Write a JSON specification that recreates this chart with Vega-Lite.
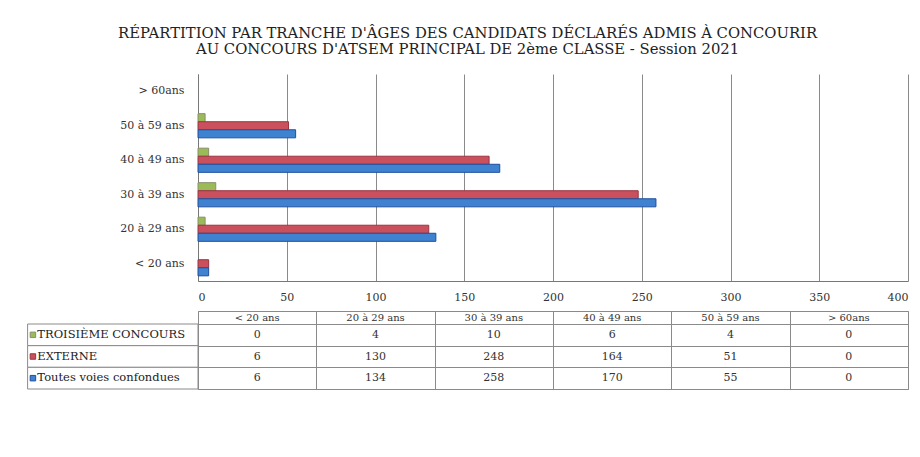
{
  "$schema": "https://vega.github.io/schema/vega-lite/v6.json",
  "padding": {"left": 26, "top": 26, "right": 4, "bottom": 10},
  "background": "white",
  "title": {
    "text": ["RÉPARTITION PAR TRANCHE D'ÂGES DES CANDIDATS DÉCLARÉS ADMIS À CONCOURIR", "AU CONCOURS D'ATSEM PRINCIPAL DE 2ème CLASSE - Session 2021"],
    "font": "DejaVu Serif", "fontSize": 14.8, "fontWeight": "normal", "color": "#222",
    "anchor": "middle", "offset": 17, "lineHeight": 16
  },
  "datasets": {
    "ages": [
      {"age": "< 20 ans", "serie": "TROISIÈME CONCOURS", "value": 0},
      {"age": "< 20 ans", "serie": "EXTERNE", "value": 6},
      {"age": "< 20 ans", "serie": "Toutes voies confondues", "value": 6},
      {"age": "20 à 29 ans", "serie": "TROISIÈME CONCOURS", "value": 4},
      {"age": "20 à 29 ans", "serie": "EXTERNE", "value": 130},
      {"age": "20 à 29 ans", "serie": "Toutes voies confondues", "value": 134},
      {"age": "30 à 39 ans", "serie": "TROISIÈME CONCOURS", "value": 10},
      {"age": "30 à 39 ans", "serie": "EXTERNE", "value": 248},
      {"age": "30 à 39 ans", "serie": "Toutes voies confondues", "value": 258},
      {"age": "40 à 49 ans", "serie": "TROISIÈME CONCOURS", "value": 6},
      {"age": "40 à 49 ans", "serie": "EXTERNE", "value": 164},
      {"age": "40 à 49 ans", "serie": "Toutes voies confondues", "value": 170},
      {"age": "50 à 59 ans", "serie": "TROISIÈME CONCOURS", "value": 4},
      {"age": "50 à 59 ans", "serie": "EXTERNE", "value": 51},
      {"age": "50 à 59 ans", "serie": "Toutes voies confondues", "value": 55},
      {"age": "> 60ans", "serie": "TROISIÈME CONCOURS", "value": 0},
      {"age": "> 60ans", "serie": "EXTERNE", "value": 0},
      {"age": "> 60ans", "serie": "Toutes voies confondues", "value": 0}
    ]
  },
  "spacing": 8,
  "vconcat": [
    {
      "width": 710,
      "height": 207,
      "data": {"name": "ages"},
      "mark": {"type": "bar", "strokeWidth": 1},
      "encoding": {
        "y": {
          "field": "age", "type": "nominal",
          "sort": ["> 60ans", "50 à 59 ans", "40 à 49 ans", "30 à 39 ans", "20 à 29 ans", "< 20 ans"],
          "scale": {"paddingInner": 0, "paddingOuter": 0},
          "axis": {"title": null, "ticks": false, "labelPadding": 14, "labelFontSize": 11, "labelColor": "#333", "labelFont": "DejaVu Serif", "domainColor": "#777", "grid": false}
        },
        "x": {
          "field": "value", "type": "quantitative",
          "scale": {"domain": [0, 400], "nice": false},
          "axis": {"title": null, "values": [0, 50, 100, 150, 200, 250, 300, 350, 400], "ticks": false, "labelPadding": 10, "labelFontSize": 11, "labelColor": "#333", "labelFont": "DejaVu Serif", "grid": true, "gridColor": "#8a8a8a", "domainColor": "#777"}
        },
        "yOffset": {
          "field": "serie", "type": "nominal",
          "sort": ["TROISIÈME CONCOURS", "EXTERNE", "Toutes voies confondues"],
          "scale": {"paddingInner": 0, "paddingOuter": 0.64}
        },
        "color": {
          "field": "serie", "type": "nominal",
          "scale": {"domain": ["TROISIÈME CONCOURS", "EXTERNE", "Toutes voies confondues"], "range": ["#9BBB59", "#C9505C", "#3F82CF"]},
          "legend": null
        },
        "stroke": {
          "field": "serie", "type": "nominal",
          "scale": {"domain": ["TROISIÈME CONCOURS", "EXTERNE", "Toutes voies confondues"], "range": ["#8a8f6a", "#9B3440", "#1F4E9E"]},
          "legend": null
        },
        "strokeOpacity": {"condition": {"test": "datum.value == 0", "value": 0}, "value": 1}
      }
    },
    {
      "width": 710,
      "height": 78,
      "view": {"stroke": "#8a8a8a"},
      "data": {"name": "ages"},
      "resolve": {"scale": {"x": "independent"}, "axis": {"x": "independent"}},
      "encoding": {
        "y": {
          "field": "serie", "type": "nominal",
          "sort": ["TROISIÈME CONCOURS", "EXTERNE", "Toutes voies confondues"],
          "scale": {"domain": ["TROISIÈME CONCOURS", "EXTERNE", "Toutes voies confondues"], "paddingInner": 0, "paddingOuter": 0.3, "align": 1},
          "axis": {"title": null, "labels": false, "ticks": false, "domain": false, "grid": true, "tickBand": "extent", "gridColor": "#8a8a8a"}
        }
      },
      "layer": [
        {
          "transform": [{"filter": "datum.age == '< 20 ans'"}],
          "mark": {"type": "rect", "fill": "white", "stroke": "#8a8a8a", "strokeWidth": 1},
          "encoding": {
            "x": {"datum": -96, "type": "quantitative", "scale": {"domain": [0, 400], "nice": false, "zero": false},
              "axis": {"title": null, "values": [0, 66.6667, 133.3333, 200, 266.6667, 333.3333, 400], "labels": false, "ticks": false, "domain": false, "grid": true, "gridColor": "#8a8a8a"}},
            "x2": {"datum": 0}
          }
        },
        {
          "transform": [{"filter": "datum.age == '< 20 ans'"}],
          "mark": {"type": "point", "shape": "square", "filled": true, "size": 30, "opacity": 1, "strokeWidth": 1},
          "encoding": {
            "x": {"datum": -93, "type": "quantitative", "scale": {"domain": [0, 400], "nice": false, "zero": false}, "axis": null},
            "color": {
              "field": "serie", "type": "nominal",
              "scale": {"domain": ["TROISIÈME CONCOURS", "EXTERNE", "Toutes voies confondues"], "range": ["#9BBB59", "#C9505C", "#3F82CF"]},
              "legend": null
            },
            "stroke": {
              "field": "serie", "type": "nominal",
              "scale": {"domain": ["TROISIÈME CONCOURS", "EXTERNE", "Toutes voies confondues"], "range": ["#8a8f6a", "#9B3440", "#1F4E9E"]},
              "legend": null
            }
          }
        },
        {
          "transform": [{"filter": "datum.age == '< 20 ans'"}],
          "mark": {"type": "text", "align": "left", "baseline": "middle", "fontSize": 11.5, "font": "DejaVu Serif", "color": "#222"},
          "encoding": {
            "x": {"datum": -90.5, "type": "quantitative", "scale": {"domain": [0, 400], "nice": false, "zero": false}, "axis": null},
            "text": {"field": "serie"}
          }
        },
        {
          "mark": {"type": "text", "baseline": "middle", "fontSize": 11, "font": "DejaVu Serif", "color": "#333"},
          "encoding": {
            "x": {"field": "age", "type": "nominal", "sort": ["< 20 ans", "20 à 29 ans", "30 à 39 ans", "40 à 49 ans", "50 à 59 ans", "> 60ans"], "scale": {"paddingInner": 0, "paddingOuter": 0}, "axis": null},
            "text": {"field": "value"}
          }
        },
        {
          "transform": [{"filter": "datum.serie == 'EXTERNE'"}],
          "mark": {"type": "text", "baseline": "middle", "fontSize": 10, "font": "DejaVu Serif", "color": "#333", "dy": -17.3},
          "encoding": {
            "x": {"field": "age", "type": "nominal", "sort": ["< 20 ans", "20 à 29 ans", "30 à 39 ans", "40 à 49 ans", "50 à 59 ans", "> 60ans"], "scale": {"paddingInner": 0, "paddingOuter": 0}, "axis": null},
            "y": {"datum": "TROISIÈME CONCOURS"},
            "text": {"field": "age"}
          }
        }
      ]
    }
  ],
  "config": {"view": {"stroke": null}, "font": "DejaVu Serif"}
}
